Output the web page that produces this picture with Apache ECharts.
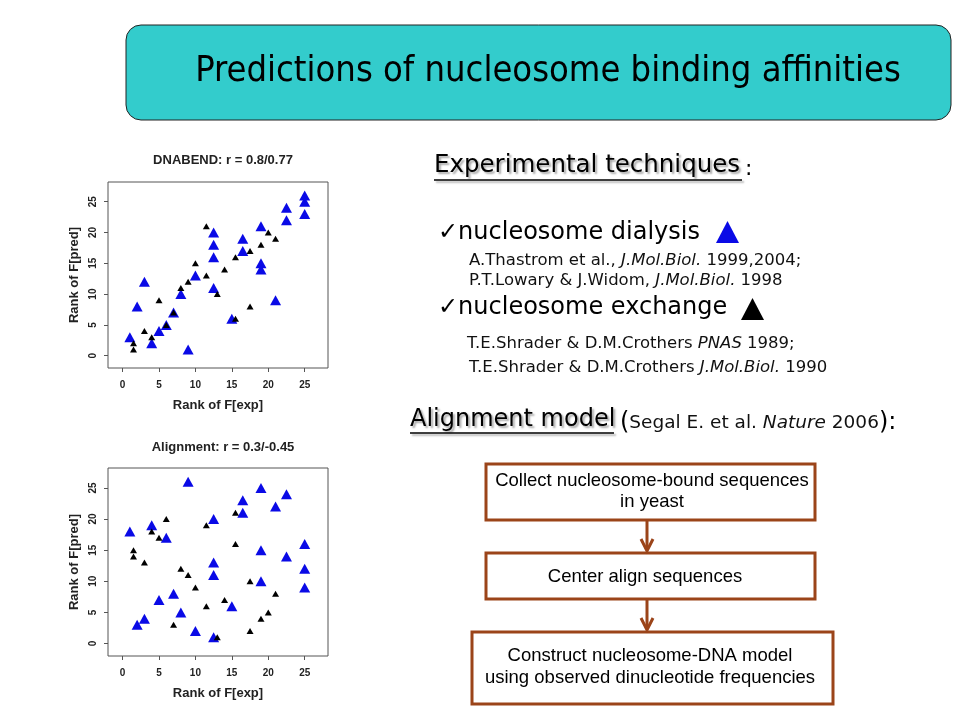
<!DOCTYPE html>
<html><head><meta charset="utf-8">
<script src="https://cdn.jsdelivr.net/npm/echarts@6/dist/echarts.min.js"></script>
<style>html,body{margin:0;padding:0;background:#fff}#c{width:960px;height:720px}</style>
</head><body><div id="c"></div>
<script>
// ---- data ----
const tickValues = [0, 5, 10, 15, 20, 25];
const dnabendDialysis = [[1,3],[2,8],[3,12],[4,2],[5,4],[6,5],[7,7],[8,10],[9,1],[10,13],[12.5,20],[12.5,18],[12.5,16],[12.5,11],[15,6],[16.5,19],[16.5,17],[19,21],[19,15],[19,14],[21,9],[22.5,24],[22.5,22],[25,26],[25,25],[25,23]];
const dnabendExchange = [[1.5,2],[1.5,1],[3,4],[4,3],[5,9],[6,5],[7,7],[8,11],[9,12],[10,15],[11.5,21],[11.5,13],[13,10],[14,14],[15.5,16],[15.5,6],[17.5,17],[17.5,8],[19,18],[20,20],[21,19]];
const alignDialysis = [[1,18],[2,3],[3,4],[4,19],[5,7],[6,17],[7,8],[8,5],[9,26],[10,2],[12.5,20],[12.5,13],[12.5,11],[12.5,1],[15,6],[16.5,23],[16.5,21],[19,25],[19,15],[19,10],[21,22],[22.5,24],[22.5,14],[25,16],[25,12],[25,9]];
const alignExchange = [[1.5,15],[1.5,14],[3,13],[4,18],[5,17],[6,20],[7,3],[8,12],[9,11],[10,9],[11.5,19],[11.5,6],[13,1],[14,7],[15.5,21],[15.5,16],[17.5,10],[17.5,2],[19,4],[20,5],[21,8]];
const plotTitles = ['DNABEND: r = 0.8/0.77', 'Alignment: r = 0.3/-0.45'];
const xName = 'Rank of F[exp]';
const yName = 'Rank of F[pred]';

// ---- styles ----
const BLUE = '#0a0ae6';
const BROWN = '#9b4419';
const rFont = "'Liberation Sans', Arial, sans-serif";
const sFont = "'DejaVu Sans', Verdana, sans-serif";

function xAxis(gi) {
  return {
    type: 'value', gridIndex: gi, min: -2, max: 28.2,
    name: xName, nameLocation: 'middle', nameGap: 31,
    nameTextStyle: {fontFamily: rFont, fontWeight: 'bold', fontSize: 13, color: '#222'},
    axisLine: {show: false, onZero: false}, splitLine: {show: false},
    axisTick: {show: true, customValues: tickValues, length: 4, lineStyle: {color: '#555'}},
    axisLabel: {customValues: tickValues, fontFamily: rFont, fontWeight: 'bold', fontSize: 10, color: '#222', margin: 12}
  };
}
function yAxis(gi) {
  return {
    type: 'value', gridIndex: gi, min: -2, max: 28.2,
    name: yName, nameLocation: 'middle', nameGap: 27,
    nameTextStyle: {fontFamily: rFont, fontWeight: 'bold', fontSize: 13, color: '#222'},
    axisLine: {show: false, onZero: false}, splitLine: {show: false},
    axisTick: {show: true, customValues: tickValues, length: 4, lineStyle: {color: '#555'}},
    axisLabel: {customValues: tickValues, rotate: 90, fontFamily: rFont, fontWeight: 'bold', fontSize: 10, color: '#222', margin: 10}
  };
}
function sc(name, data, gi, color, size) {
  return {type: 'scatter', name, data, xAxisIndex: gi, yAxisIndex: gi, symbol: 'triangle',
    symbolSize: size, itemStyle: {color, opacity: 1}, silent: true, animation: false};
}
function txt(text, x, y, opt) {
  return {type: 'text', silent: true, style: Object.assign({text, x, y, fill: '#000',
    textAlign: 'left', align: 'left', textVerticalAlign: 'middle', verticalAlign: 'middle'}, opt || {})};
}
const refStyle = {
  n: {fontFamily: sFont, fontSize: 16.5, fill: '#111', color: '#111'},
  i: {fontFamily: sFont, fontSize: 16.5, fontStyle: 'italic', fill: '#111', color: '#111'}
};
const shadow = {textShadowColor: 'rgba(0,0,0,0.35)', textShadowBlur: 2, textShadowOffsetX: 2, textShadowOffsetY: 2};
const lineShadow = {shadowColor: 'rgba(0,0,0,0.35)', shadowBlur: 2, shadowOffsetX: 2, shadowOffsetY: 2};
function box(x, y, w, h) {
  return {type: 'rect', silent: true, shape: {x, y, width: w, height: h}, style: {fill: '#fff', stroke: BROWN, lineWidth: 3}};
}
function arrow(x, y1, y2) {
  return [
    {type: 'line', silent: true, shape: {x1: x, y1: y1, x2: x, y2: y2 - 2}, style: {stroke: BROWN, lineWidth: 3}},
    {type: 'polyline', silent: true, shape: {points: [[x - 6, y2 - 12], [x, y2], [x + 6, y2 - 12]]}, style: {stroke: BROWN, lineWidth: 3, fill: null}}
  ];
}

const chart = echarts.init(document.getElementById('c'), null, {renderer: 'canvas'});
const option = {
  backgroundColor: '#fff',
  animation: false,
  title: [
    {text: plotTitles[0], left: 218, top: 149, textAlign: 'center', textStyle: {fontFamily: rFont, fontWeight: 'bold', fontSize: 13, color: '#222'}},
    {text: plotTitles[1], left: 218, top: 436, textAlign: 'center', textStyle: {fontFamily: rFont, fontWeight: 'bold', fontSize: 13, color: '#222'}}
  ],
  grid: [
    {left: 108, top: 182, width: 220, height: 186, show: true, borderColor: '#555', borderWidth: 1, backgroundColor: 'transparent'},
    {left: 108, top: 468, width: 220, height: 188, show: true, borderColor: '#555', borderWidth: 1, backgroundColor: 'transparent'}
  ],
  xAxis: [xAxis(0), xAxis(1)],
  yAxis: [yAxis(0), yAxis(1)],
  series: [
    sc('DNABEND dialysis', dnabendDialysis, 0, BLUE, [11, 10]),
    sc('DNABEND exchange', dnabendExchange, 0, '#000', [7, 6]),
    sc('Alignment dialysis', alignDialysis, 1, BLUE, [11, 10]),
    sc('Alignment exchange', alignExchange, 1, '#000', [7, 6])
  ],
  graphic: [
    {type: 'rect', silent: true, shape: {x: 126, y: 25, width: 825, height: 95, r: 15}, style: {fill: '#33CCCC', stroke: '#222', lineWidth: 1}},
    txt('Predictions of nucleosome binding affinities', 548, 72, {textAlign: 'center', align: 'center',
      font: "36px 'DejaVu Sans Condensed', 'Liberation Sans Narrow', sans-serif"}),

    txt('Experimental techniques', 434, 166, Object.assign({font: "24.5px " + sFont}, shadow)),
    {type: 'line', silent: true, shape: {x1: 434, y1: 180, x2: 742, y2: 180}, style: Object.assign({stroke: '#000', lineWidth: 1.5}, lineShadow)},
    txt(':', 745, 169, {font: "22px " + sFont}),

    txt('\u2713nucleosome dialysis', 438, 233, {font: "24px " + sFont}),
    {type: 'polygon', silent: true, shape: {points: [[716, 243], [727.5, 221], [739, 243]]}, style: {fill: BLUE}},
    txt('{n|A.Thastrom et al., }{i|J.Mol.Biol.}{n| 1999,2004;}', 469, 261, {rich: refStyle}),
    txt('{n|P.T.Lowary & J.Widom, }{i|J.Mol.Biol.}{n| 1998}', 469, 281, {rich: refStyle}),
    txt('\u2713nucleosome exchange', 438, 308, {font: "24px " + sFont}),
    {type: 'polygon', silent: true, shape: {points: [[741, 320], [752.5, 298], [764, 320]]}, style: {fill: '#000'}},
    txt('{n|T.E.Shrader & D.M.Crothers }{i|PNAS}{n| 1989;}', 467, 344, {rich: refStyle}),
    txt('{n|T.E.Shrader & D.M.Crothers }{i|J.Mol.Biol.}{n| 1990}', 469, 368, {rich: refStyle}),

    txt('Alignment model', 410, 420, Object.assign({font: "24px " + sFont}, shadow)),
    {type: 'line', silent: true, shape: {x1: 410, y1: 433, x2: 614, y2: 433}, style: Object.assign({stroke: '#000', lineWidth: 1.5}, lineShadow)},
    txt('{p|(}{n|Segal E. et al. }{i|Nature}{n| 2006}{p|):}', 620, 423, {rich: {
      p: {fontFamily: sFont, fontSize: 24, fill: '#000', color: '#000'},
      n: {fontFamily: sFont, fontSize: 18.5, fill: '#111', color: '#111'},
      i: {fontFamily: sFont, fontSize: 18.5, fontStyle: 'italic', fill: '#111', color: '#111'}
    }}),

    box(486, 464, 329, 56),
    box(486, 553, 329, 46),
    box(472, 632, 361, 72),
    ...arrow(647, 520, 551),
    ...arrow(647, 599, 630),
    txt('Collect nucleosome-bound sequences', 652, 481, {textAlign: 'center', align: 'center', font: "18.5px " + rFont}),
    txt('in yeast', 652, 502, {textAlign: 'center', align: 'center', font: "18.5px " + rFont}),
    txt('Center align sequences', 645, 577, {textAlign: 'center', align: 'center', font: "18.5px " + rFont}),
    txt('Construct nucleosome-DNA model', 650, 656, {textAlign: 'center', align: 'center', font: "18.5px " + rFont}),
    txt('using observed dinucleotide frequencies', 650, 678, {textAlign: 'center', align: 'center', font: "18.5px " + rFont})
  ]
};
chart.setOption(option);
</script></body></html>
